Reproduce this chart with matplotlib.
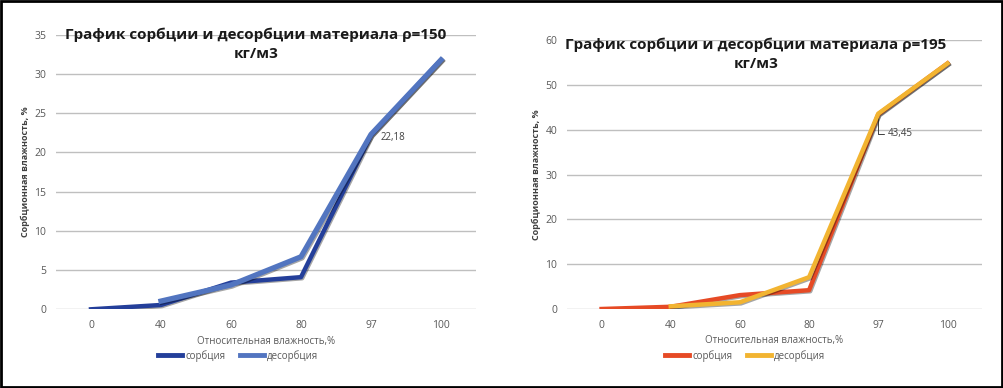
import numpy as np
import matplotlib.pyplot as plt
import matplotlib.patheffects as pe
from matplotlib.lines import Line2D
from matplotlib.patches import Rectangle

plt.rcParams["font.family"] = ["Open Sans", "DejaVu Sans"]

categories = ["0", "40", "60", "80", "97", "100"]

sorb_150 = [0.0, 0.55, 3.4, 4.1, 22.18, 31.8]
desorb_150 = [np.nan, 1.05, 3.1, 6.7, 22.3, 31.8]

sorb_195 = [0.0, 0.5, 3.1, 4.2, 43.45, 54.8]
desorb_195 = [np.nan, 0.6, 1.5, 7.1, 43.6, 54.8]

titles = ["График сорбции и десорбции материала ρ=150\nкг/м3",
          "График сорбции и десорбции материала ρ=195\nкг/м3"]
series_names = ["сорбция", "десорбция"]

W, H = 1004, 388
fig = plt.figure(figsize=(W / 100, H / 100), dpi=100)

GRID = "#BFBFBF"
TICK = "#595959"
shadow = [pe.SimpleLineShadow(offset=(0.8, -0.8), shadow_color="black", alpha=0.35),
          pe.Normal()]


def setup_axes(rect, ymax, ystep):
    ax = fig.add_axes(rect)
    ax.set_xlim(-0.5, len(categories) - 0.5)
    ax.set_ylim(0, ymax)
    ax.set_yticks(np.arange(0, ymax + 1, ystep))
    ax.set_xticks(range(len(categories)))
    ax.set_xticklabels(categories)
    ax.tick_params(length=0, labelsize=7.5, colors=TICK, pad=8)
    ax.tick_params(axis="y", pad=7)
    ax.yaxis.grid(True, color=GRID, linewidth=1)
    ax.set_axisbelow(True)
    for s in ax.spines.values():
        s.set_visible(False)
    ax.set_xlabel("Относительная влажность,%", fontsize=7, color=TICK, labelpad=3)
    ax.set_ylabel("Сорбционная влажность, %", fontsize=6.5, color="#404040",
                  fontweight="bold", labelpad=3)
    return ax


x = np.arange(len(categories))

# left chart
ax1 = setup_axes([56 / W, 1 - 309.3 / H, 420 / W, 274.5 / H], 35, 5)
c_s1, c_d1 = "#243F9A", "#5275C0"
ax1.plot(x, sorb_150, color=c_s1, lw=3.2, path_effects=shadow, zorder=3)
ax1.plot(x, desorb_150, color=c_d1, lw=3.8, path_effects=shadow, zorder=4)
ax1.annotate("22,18", xy=(4, sorb_150[4]), xytext=(7, -1.5), textcoords="offset points",
             fontsize=7, color="#404040", va="center", ha="left")

# right chart
ax2 = setup_axes([567 / W, 1 - 309 / H, 415 / W, 268.8 / H], 60, 10)
c_s2, c_d2 = "#E64A25", "#F2B431"
ax2.plot(x, sorb_195, color=c_s2, lw=3.2, path_effects=shadow, zorder=3)
ax2.plot(x, desorb_195, color=c_d2, lw=3.2, path_effects=shadow, zorder=4)
ax2.annotate("43,45", xy=(4, sorb_195[4]), xytext=(7, -14), textcoords="offset points",
             fontsize=7, color="#404040", va="center", ha="left",
             arrowprops=dict(arrowstyle="-", color="#404040", lw=0.7,
                             connectionstyle="angle,angleA=0,angleB=90",
                             shrinkA=1, shrinkB=2))

# titles
fig.text(256 / W, 1 - 44 / H, titles[0], ha="center", va="center", fontsize=11,
         fontweight="bold", color="#1a1a1a", linespacing=1.45)
fig.text(756 / W, 1 - 54 / H, titles[1], ha="center", va="center", fontsize=11,
         fontweight="bold", color="#1a1a1a", linespacing=1.45)

# legends
for ax, cols, cx in [(ax1, (c_s1, c_d1), 238), (ax2, (c_s2, c_d2), 745)]:
    handles = [Line2D([], [], color=cols[0], lw=3.5), Line2D([], [], color=cols[1], lw=3.5)]
    fig.legend(handles, series_names, loc="center", bbox_to_anchor=(cx / W, 1 - 356 / H),
               ncol=2, frameon=False, fontsize=7, handlelength=2.5, handletextpad=0.3,
               columnspacing=1.5, labelcolor=TICK)

# outer frame
fig.patches.append(Rectangle((0.001, 0.002), 0.997, 0.995, transform=fig.transFigure,
                             fill=False, edgecolor="black", linewidth=2))

fig.savefig("out.png", dpi=100)
